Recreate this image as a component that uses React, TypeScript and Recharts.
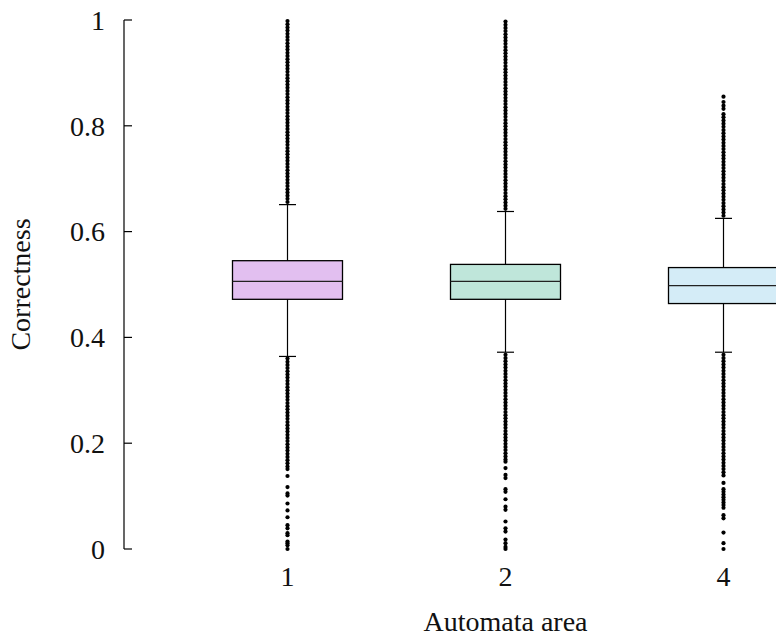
import { ComposedChart, Bar, Scatter, XAxis, YAxis } from 'recharts'

// automata area categories
const categories = ['1', '2', '4']

// box statistics per category
const whiskerLow = [0.364, 0.372, 0.372]
const q1 = [0.472, 0.472, 0.464]
const median = [0.506, 0.506, 0.498]
const q3 = [0.545, 0.538, 0.532]
const whiskerHigh = [0.651, 0.638, 0.625]

// outliers
const outliers1 = [
  0.656, 0.662, 0.668, 0.674, 0.68, 0.686, 0.692, 0.698, 0.704, 0.71, 0.716, 0.722, 0.728, 0.734, 0.74,
  0.746, 0.752, 0.758, 0.764, 0.77, 0.776, 0.782, 0.788, 0.794, 0.8, 0.806, 0.812, 0.818, 0.824, 0.83,
  0.836, 0.842, 0.848, 0.854, 0.86, 0.866, 0.872, 0.878, 0.884, 0.89, 0.896, 0.902, 0.908, 0.914, 0.92,
  0.926, 0.932, 0.938, 0.944, 0.95, 0.956, 0.962, 0.968, 0.974, 0.98, 0.986, 0.992, 0.998,
  0.36, 0.354, 0.348, 0.342, 0.336, 0.33, 0.324, 0.318, 0.312, 0.306, 0.3, 0.294, 0.288, 0.282, 0.276,
  0.27, 0.264, 0.258, 0.252, 0.246, 0.24, 0.234, 0.228, 0.222, 0.216, 0.21, 0.204, 0.198, 0.192, 0.186,
  0.18, 0.174, 0.168, 0.162, 0.156, 0.151,
  0.138, 0.117, 0.105, 0.101, 0.086, 0.073, 0.06, 0.045, 0.039, 0.03, 0.026, 0.014, 0.011, 0.007, 0.0,
]
const outliers2 = [
  0.643, 0.649, 0.655, 0.661, 0.667, 0.673, 0.679, 0.685, 0.691, 0.697, 0.703, 0.709, 0.715, 0.721, 0.727,
  0.733, 0.739, 0.745, 0.751, 0.757, 0.763, 0.769, 0.775, 0.781, 0.787, 0.793, 0.799, 0.805, 0.811, 0.817,
  0.823, 0.829, 0.835, 0.841, 0.847, 0.853, 0.859, 0.865, 0.871, 0.877, 0.883, 0.889, 0.895, 0.901, 0.907,
  0.913, 0.919, 0.925, 0.931, 0.937, 0.943, 0.949, 0.955, 0.961, 0.967, 0.973, 0.979, 0.985, 0.991, 0.997,
  0.367, 0.361, 0.355, 0.349, 0.343, 0.337, 0.331, 0.325, 0.319, 0.313, 0.307, 0.301, 0.295, 0.289, 0.283,
  0.277, 0.271, 0.265, 0.259, 0.253, 0.247, 0.241, 0.235, 0.229, 0.223, 0.217, 0.211, 0.205, 0.199, 0.193,
  0.187, 0.181, 0.175, 0.169, 0.165,
  0.153, 0.14, 0.134, 0.113, 0.108, 0.094, 0.08, 0.074, 0.052, 0.039, 0.033, 0.018, 0.011, 0.004, 0.0,
]
const outliers4 = [
  0.63, 0.636, 0.642, 0.648, 0.654, 0.66, 0.666, 0.672, 0.678, 0.684, 0.69, 0.696, 0.702, 0.708, 0.714,
  0.72, 0.726, 0.732, 0.738, 0.744, 0.75, 0.756, 0.762, 0.768, 0.774, 0.78, 0.786, 0.792, 0.798, 0.804,
  0.81, 0.816, 0.822, 0.832, 0.838, 0.845, 0.855,
  0.367, 0.361, 0.355, 0.349, 0.343, 0.337, 0.331, 0.325, 0.319, 0.313, 0.307, 0.301, 0.295, 0.289, 0.283,
  0.277, 0.271, 0.265, 0.259, 0.253, 0.247, 0.241, 0.235, 0.229, 0.223, 0.217, 0.211, 0.205, 0.199, 0.193,
  0.187, 0.181, 0.175, 0.169, 0.163, 0.157, 0.151, 0.145, 0.139,
  0.125, 0.113, 0.108, 0.103, 0.098, 0.093, 0.088, 0.083, 0.078, 0.064, 0.058, 0.031, 0.011, 0.0,
]
const outliers = [outliers1, outliers2, outliers4]

const yTicks = [0, 0.2, 0.4, 0.6, 0.8, 1]

const COLORS = ['#e2bff0', '#bfe6da', '#d4ecf7']
const FONT = '"Liberation Serif", "Times New Roman", serif'

const boxData = categories.map((c, i) => ({
  x: i + 1,
  name: c,
  whiskerLow: whiskerLow[i],
  q1: q1[i],
  median: median[i],
  q3: q3[i],
  whiskerHigh: whiskerHigh[i],
}))

const outlierData = outliers.flatMap((vals, i) => vals.map((v) => ({ x: i + 1, y: v })))

// draws whiskers, box and median inside the whisker range bar
const BoxShape = (props: any) => {
  const { x, y, width, height, payload, index } = props
  const lo = payload.whiskerLow
  const hi = payload.whiskerHigh
  const h = Math.abs(height)
  const top = Math.min(y, y + height)
  const k = h / (hi - lo)
  const toY = (v: number) => top + (hi - v) * k
  const cx = x + width / 2
  const cap = 8.5
  return (
    <g>
      <line x1={cx} x2={cx} y1={toY(hi)} y2={toY(lo)} stroke="#000" strokeWidth={1.2} />
      <line x1={cx - cap} x2={cx + cap} y1={toY(hi)} y2={toY(hi)} stroke="#000" strokeWidth={1.2} />
      <line x1={cx - cap} x2={cx + cap} y1={toY(lo)} y2={toY(lo)} stroke="#000" strokeWidth={1.2} />
      <rect
        x={x}
        y={toY(payload.q3)}
        width={width}
        height={toY(payload.q1) - toY(payload.q3)}
        fill={COLORS[index % COLORS.length]}
        stroke="#000"
        strokeWidth={1.3}
      />
      <line x1={x} x2={x + width} y1={toY(payload.median)} y2={toY(payload.median)} stroke="#222" strokeWidth={1.3} />
    </g>
  )
}

const Dot = (props: any) => <circle cx={props.cx} cy={props.cy} r={2.1} fill="#000" />

const YTick = (props: any) => {
  const { x, y, payload } = props
  return (
    <text x={x} y={y} dy="0.35em" textAnchor="end" fontFamily={FONT} fontSize={28} fill="#111">
      {payload.value === 0 || payload.value === 1 ? payload.value : payload.value.toFixed(1)}
    </text>
  )
}

export default function App() {
  return (
    <div style={{ position: 'absolute', left: 0, top: 0, width: 776, height: 638, overflow: 'hidden' }}>
      <ComposedChart width={887} height={638} data={boxData} margin={{ top: 20, right: 0, bottom: 0, left: 0 }}>
        <XAxis
          dataKey="x"
          type="number"
          domain={[0.25, 3.75]}
          ticks={[1, 2, 3]}
          allowDataOverflow
          axisLine={false}
          tickLine={false}
          tickSize={0}
          tickMargin={17}
          height={89}
          tickFormatter={(v: number) => categories[v - 1]}
          tick={{ fontFamily: FONT, fontSize: 28, fill: '#111' }}
          label={{
            value: 'Automata area',
            position: 'insideBottom',
            offset: 7,
            style: { fontFamily: FONT, fontSize: 28, fill: '#111' },
          }}
        />
        <YAxis
          type="number"
          domain={[0, 1]}
          ticks={yTicks}
          width={124}
          axisLine={{ stroke: '#000', strokeWidth: 1.2 }}
          tickLine={{ stroke: '#000', strokeWidth: 1.2 }}
          tickSize={-8}
          tickMargin={27}
          tick={<YTick />}
          label={{
            content: (p: any) => {
              const vb = p.viewBox
              const cy = vb.y + vb.height / 2
              return (
                <text
                  x={20}
                  y={cy}
                  transform={`rotate(-90 20 ${cy})`}
                  textAnchor="middle"
                  dy="0.35em"
                  fontFamily={FONT}
                  fontSize={28}
                  fill="#111"
                >
                  Correctness
                </text>
              )
            },
          }}
        />
        <Bar
          dataKey={(d: any) => [d.whiskerLow, d.whiskerHigh]}
          barSize={110}
          shape={<BoxShape />}
          isAnimationActive={false}
        />
        <Scatter data={outlierData} dataKey="y" shape={<Dot />} isAnimationActive={false} />
      </ComposedChart>
    </div>
  )
}
